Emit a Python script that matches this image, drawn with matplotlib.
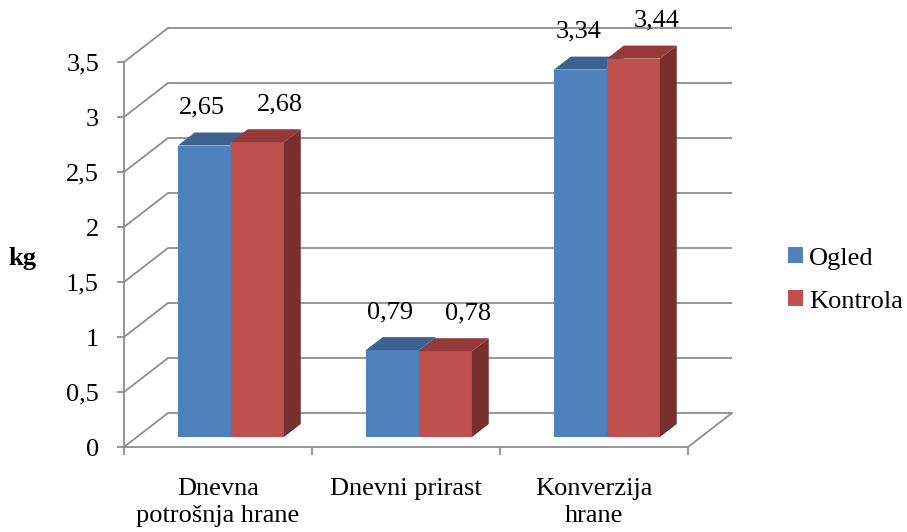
import matplotlib
matplotlib.use("Agg")
import matplotlib.pyplot as plt
from matplotlib.patches import Polygon, Patch

# ---- data ----
categories = ["Dnevna\npotrošnja hrane", "Dnevni prirast", "Konverzija\nhrane"]
series_names = ["Ogled", "Kontrola"]
ogled = [2.65, 0.79, 3.34]
kontrola = [2.68, 0.78, 3.44]
y_ticks = [0, 0.5, 1, 1.5, 2, 2.5, 3, 3.5]
y_tick_labels = ["0", "0,5", "1", "1,5", "2", "2,5", "3", "3,5"]

# ---- style ----
FONT = "Liberation Serif"
FS = 19
GRID = "#8e8e8e"
face = {"Ogled": "#4f81bd", "Kontrola": "#c0504d"}
top = {"Ogled": "#3c6291", "Kontrola": "#953a38"}
side = {"Ogled": "#385d8a", "Kontrola": "#78302e"}

# oblique depth of the wall / floor, in data units (category, kg)
DX, DY = 0.234, 0.309
F0, F1 = 0.294, 0.676          # bar depth span as fraction of the wall depth
BW = 0.282                      # bar width (category units)

W, H = 907, 532
fig = plt.figure(figsize=(W / 100, H / 100), dpi=100)
# axes: x=0 at px 124, 188 px per category; y=0 at px 447, 110 px per kg
x_max = (735 - 124) / 188
y_max = (447 - 20) / 110
ax = fig.add_axes([124 / W, (H - 447) / H, 611 / W, 427 / H])
ax.set_xlim(0, x_max)
ax.set_ylim(0, y_max)
ax.patch.set_visible(False)

# back wall gridlines and left wall diagonals
for t in y_ticks:
    ax.plot([DX, 3 + DX], [t + DY, t + DY], color=GRID, lw=1.3, zorder=1,
            clip_on=False, solid_capstyle="butt")
    ax.plot([0, DX], [t, t + DY], color=GRID, lw=1.3, zorder=1, clip_on=False)
# right floor edge
ax.plot([3, 3 + DX], [0, DY], color=GRID, lw=1.3, zorder=1, clip_on=False)

# 3D bars
def draw_bar(x0, v, name):
    x1 = x0 + BW
    fx0, fx1 = x0 + F0 * DX, x1 + F0 * DX
    fy = F0 * DY
    bx0, bx1 = x0 + F1 * DX, x1 + F1 * DX
    by = F1 * DY
    ax.bar(fx0, v, width=BW, bottom=fy, align="edge", color=face[name],
           zorder=3, linewidth=0, clip_on=False)
    ax.add_patch(Polygon([(fx0, v + fy), (fx1, v + fy), (bx1, v + by), (bx0, v + by)],
                         closed=True, facecolor=top[name], edgecolor="none",
                         zorder=3, clip_on=False))
    ax.add_patch(Polygon([(fx1, fy), (bx1, by), (bx1, v + by), (fx1, v + fy)],
                         closed=True, facecolor=side[name], edgecolor="none",
                         zorder=3, clip_on=False))

label_dx = {"Ogled": -0.011, "Kontrola": 0.122}
for i in range(len(categories)):
    c = i + 0.5
    for name, vals, x0 in (("Ogled", ogled, c - BW), ("Kontrola", kontrola, c)):
        v = vals[i]
        draw_bar(x0, v, name)
        ax.text(x0 + BW / 2 + F0 * DX + label_dx[name], v + F0 * DY + 0.345,
                f"{v:.2f}".replace(".", ","), ha="center", va="center",
                fontsize=FS, family=FONT, zorder=5)

# axes spines and ticks
for s in ("top", "right"):
    ax.spines[s].set_visible(False)
ax.spines["left"].set_bounds(0, 3.5)
ax.spines["bottom"].set_bounds(0, 3)
for s in ("left", "bottom"):
    ax.spines[s].set_color(GRID)
    ax.spines[s].set_linewidth(1.3)

ax.set_yticks(y_ticks)
ax.set_yticklabels(y_tick_labels, fontsize=FS, family=FONT)
ax.tick_params(axis="y", direction="out", length=5, width=1.3, color=GRID, pad=13)

ax.set_xticks([0, 1, 2, 3])
ax.set_xticklabels([])
ax.set_xticks([0.5, 1.5, 2.5], minor=True)
ax.set_xticklabels(categories, minor=True, fontsize=FS, family=FONT,
                   linespacing=1.3)
ax.tick_params(axis="x", which="major", direction="out", length=6, width=1.3,
               color=GRID)
ax.tick_params(axis="x", which="minor", length=0, pad=22)

ax.set_ylabel("kg", rotation=0, fontsize=FS, family=FONT, fontweight="bold",
              va="center", ha="center")
ax.yaxis.set_label_coords((22 - 124) / 611, (447 - 258) / 427)

handles = [Patch(facecolor=face[n], edgecolor="none", label=n) for n in series_names]
fig.legend(handles=handles, loc="center left", bbox_to_anchor=(788 / W, 1 - 280 / H),
           frameon=False, prop={"family": FONT, "size": FS},
           handlelength=0.55, handleheight=0.55, handletextpad=0.25,
           labelspacing=0.78, borderpad=0, borderaxespad=0)

fig.savefig("out.png", dpi=100)
